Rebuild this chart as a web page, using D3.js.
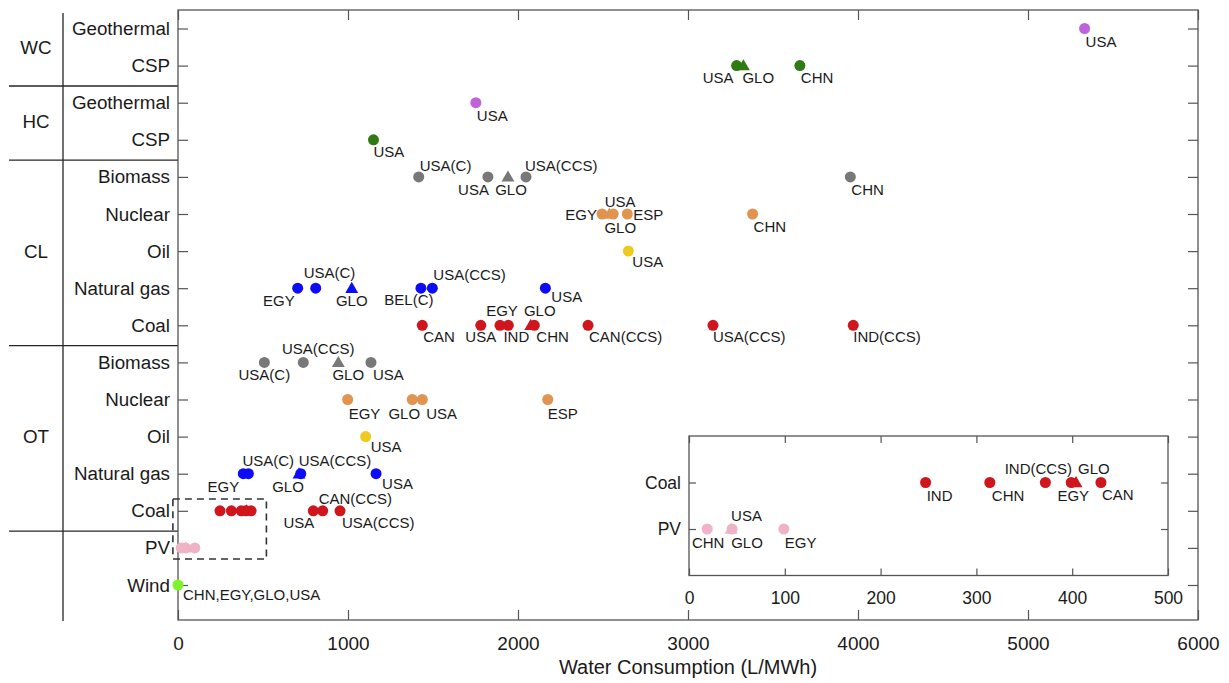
<!DOCTYPE html>
<html>
<head>
<meta charset="utf-8">
<script src="https://d3js.org/d3.v7.min.js"></script>
<style>
  body { margin: 0; background: #fff; }
  text { font-family: "Liberation Sans", Arial, sans-serif; fill: #1a1a1a; }
  .axis path { display: none; }
  .axis line { stroke: #555; stroke-width: 1.2; }
</style>
</head>
<body>
<script>
// rows from bottom (1) to top (16)
var rowNames = ["Wind", "PV", "Coal", "Natural gas", "Oil", "Nuclear", "Biomass",
                "Coal", "Natural gas", "Oil", "Nuclear", "Biomass",
                "CSP", "Geothermal", "CSP", "Geothermal"];
var rowFuel = ["wind", "pv", "coal", "gas", "oil", "nuclear", "biomass",
               "coal", "gas", "oil", "nuclear", "biomass", "csp", "geo", "csp", "geo"];
var groupNames = ["OT", "CL", "HC", "WC"];
var groupRows = [[3, 7], [8, 12], [13, 14], [15, 16]];
var xTicks = [0, 1000, 2000, 3000, 4000, 5000, 6000];
var insetTicks = [0, 100, 200, 300, 400, 500];

// [row, country, water consumption L/MWh, marker]
var wcRows = [[16, "USA", 5333, "o"],
              [15, "USA", 3286, "o"], [15, "GLO", 3326, "^"], [15, "CHN", 3658, "o"]];
var hcRows = [[14, "USA", 1752, "o"], [13, "USA", 1150, "o"]];
var clBiomass = [[12, "USA(C)", 1416, "o"], [12, "USA", 1823, "o"], [12, "GLO", 1941, "^"],
                 [12, "USA(CCS)", 2047, "o"], [12, "CHN", 3955, "o"]];
var clNuclear = [[11, "EGY", 2494, "o"], [11, "GLO", 2537, "^"], [11, "USA", 2560, "o"],
                 [11, "ESP", 2643, "o"], [11, "CHN", 3380, "o"]];
var clOil = [[10, "USA", 2649, "o"]];
var clGas = [[9, "EGY", 704, "o"], [9, "USA(C)", 810, "o"], [9, "GLO", 1022, "^"],
             [9, "BEL(C)", 1429, "o"], [9, "USA(CCS)", 1496, "o"], [9, "USA", 2161, "o"]];
var clCoal = [[8, "CAN", 1437, "o"], [8, "USA", 1781, "o"], [8, "EGY", 1894, "o"],
              [8, "IND", 1943, "o"], [8, "GLO", 2075, "^"], [8, "CHN", 2096, "o"],
              [8, "CAN(CCS)", 2412, "o"], [8, "USA(CCS)", 3147, "o"], [8, "IND(CCS)", 3972, "o"]];
var otBiomass = [[7, "USA(C)", 508, "o"], [7, "USA(CCS)", 737, "o"], [7, "GLO", 943, "^"],
                 [7, "USA", 1135, "o"]];
var otNuclear = [[6, "EGY", 998, "o"], [6, "GLO", 1378, "o"], [6, "USA", 1437, "o"],
                 [6, "ESP", 2175, "o"]];
var otOil = [[5, "USA", 1104, "o"]];
var otGas = [[4, "EGY", 384, "o"], [4, "USA(C)", 414, "o"], [4, "GLO", 712, "^"],
             [4, "USA(CCS)", 722, "o"], [4, "USA", 1165, "o"]];
var otCoal = [[3, "IND", 247, "o"], [3, "CHN", 314, "o"], [3, "IND(CCS)", 372, "o"],
              [3, "EGY", 399, "o"], [3, "GLO", 404, "^"], [3, "CAN", 430, "o"],
              [3, "USA", 796, "o"], [3, "CAN(CCS)", 851, "o"], [3, "USA(CCS)", 953, "o"]];
var pvRows = [[2, "CHN", 19, "o"], [2, "USA", 45, "o"], [2, "GLO", 44, "^"], [2, "EGY", 99, "o"]];
var windRows = [[1, "CHN,EGY,GLO,USA", 0, "o"]];

var fuelColor = {
  geo: "#c062d8", csp: "#2f7a12", biomass: "#787878", nuclear: "#e0944f",
  oil: "#ecca1e", gas: "#0c0cf8", coal: "#d0151d", pv: "#eeb3c5", wind: "#7cf42c"
};

// label placement [dx, dy, anchor] keyed by row|country
var labelAt = {
  "16|USA": [1, 18, "start"],
  "15|USA": [-3, 17, "end"], "15|GLO": [-1, 17, "start"], "15|CHN": [1, 17, "start"],
  "14|USA": [1, 18, "start"], "13|USA": [0, 17, "start"],
  "12|USA(C)": [1, -6, "start"], "12|USA": [1, 18, "end"], "12|GLO": [3, 18, "middle"],
  "12|USA(CCS)": [-1, -6, "start"], "12|CHN": [1, 18, "start"],
  "11|EGY": [-5, 5.5, "end"], "11|GLO": [11, 19, "middle"], "11|USA": [7, -7, "middle"],
  "11|ESP": [6, 5.5, "start"], "11|CHN": [1, 18, "start"],
  "10|USA": [4, 16, "start"],
  "9|EGY": [-3, 18, "end"], "9|USA(C)": [-12, -10, "start"], "9|GLO": [0, 18, "middle"],
  "9|BEL(C)": [-12, 17, "middle"], "9|USA(CCS)": [1, -8, "start"], "9|USA": [6, 14, "start"],
  "8|CAN": [1, 17, "start"], "8|USA": [0, 17, "middle"], "8|EGY": [2, -9, "middle"],
  "8|IND": [8, 17, "middle"], "8|GLO": [9, -9, "middle"], "8|CHN": [2, 17, "start"],
  "8|CAN(CCS)": [1, 17, "start"], "8|USA(CCS)": [0, 17, "start"], "8|IND(CCS)": [0, 17, "start"],
  "7|USA(C)": [0, 18, "middle"], "7|USA(CCS)": [15, -8, "middle"], "7|GLO": [10, 18, "middle"],
  "7|USA": [2, 18, "start"],
  "6|EGY": [1, 19, "start"], "6|GLO": [-8, 19, "middle"], "6|USA": [4, 19, "start"],
  "6|ESP": [0, 19, "start"],
  "5|USA": [5, 15.5, "start"],
  "4|EGY": [-4, 18, "end"], "4|USA(C)": [-6, -8, "start"], "4|GLO": [-11, 18, "middle"],
  "4|USA(CCS)": [-2, -8, "start"], "4|USA": [6, 15, "start"],
  "3|USA": [1, 17, "end"], "3|CAN(CCS)": [-4, -7, "start"], "3|USA(CCS)": [2, 17, "start"],
  "1|CHN,EGY,GLO,USA": [5, 15, "start"]
};
var insetLabelAt = {
  "3|IND": [1, 18, "start"], "3|CHN": [2, 18, "start"], "3|IND(CCS)": [-7, -9, "middle"],
  "3|EGY": [2, 18, "middle"], "3|GLO": [2, -9, "start"], "3|CAN": [1, 17, "start"],
  "2|CHN": [1, 19, "middle"], "2|GLO": [0, 19, "start"], "2|USA": [-1, -8, "start"],
  "2|EGY": [1, 19, "start"]
};

var allPoints = [].concat(wcRows, hcRows, clBiomass, clNuclear, clOil, clGas, clCoal,
                          otBiomass, otNuclear, otOil, otGas, otCoal, pvRows, windRows)
  .map(function (d) { return { row: d[0], name: d[1], value: d[2], mark: d[3] }; });

var W = 1229, H = 683;
var plotLeft = 178, plotRight = 1198, plotTop = 10, plotBottom = 620;

var svg = d3.select("body").append("svg").attr("width", W).attr("height", H);

var x = d3.scaleLinear().domain([0, 6000]).range([plotLeft, plotRight]);
var y = d3.scaleLinear().domain([1, 16]).range([585, 28.5]);
var rowTicks = d3.range(1, 17);

// category table on the left
var table = svg.append("g").attr("stroke", "#262626").attr("stroke-width", 1.3);
table.append("line").attr("x1", 63).attr("x2", 63).attr("y1", 13).attr("y2", 621);
[14.45, 12.45, 7.45, 2.45].forEach(function (r) {
  table.append("line").attr("x1", 9).attr("x2", plotLeft).attr("y1", y(r)).attr("y2", y(r));
});
groupNames.forEach(function (g, i) {
  var mid = (groupRows[i][0] + groupRows[i][1]) / 2;
  svg.append("text").attr("x", 36).attr("y", y(mid)).attr("dy", "0.35em")
    .attr("text-anchor", "middle").style("font-size", "18.8px").text(g);
});

// axes (MATLAB-like box with inward ticks)
svg.append("g").attr("class", "axis").attr("transform", "translate(0," + plotBottom + ")")
  .call(d3.axisBottom(x).tickValues(xTicks).tickSize(-10).tickPadding(16.5).tickFormat(d3.format("d")))
  .selectAll("text").style("font-size", "19px").attr("fill", "#262626");
svg.append("g").attr("class", "axis").attr("transform", "translate(0," + plotTop + ")")
  .call(d3.axisTop(x).tickValues(xTicks).tickSize(-10).tickFormat(""));
svg.append("g").attr("class", "axis").attr("transform", "translate(" + plotLeft + ",0)")
  .call(d3.axisLeft(y).tickValues(rowTicks).tickSize(-10).tickPadding(8)
    .tickFormat(function (d) { return rowNames[d - 1]; }))
  .selectAll("text").style("font-size", "18.8px").attr("fill", "#262626");
svg.append("g").attr("class", "axis").attr("transform", "translate(" + plotRight + ",0)")
  .call(d3.axisRight(y).tickValues(rowTicks).tickSize(-10).tickFormat(""));

svg.append("rect").attr("x", plotLeft).attr("y", plotTop)
  .attr("width", plotRight - plotLeft).attr("height", plotBottom - plotTop)
  .attr("fill", "none").attr("stroke", "#555").attr("stroke-width", 1.3);

svg.append("text").attr("x", (plotLeft + plotRight) / 2).attr("y", 674)
  .attr("text-anchor", "middle").style("font-size", "20px").text("Water Consumption (L/MWh)");

// dashed zoom box
svg.append("rect").attr("x", x(-30)).attr("y", y(3.32))
  .attr("width", x(520) - x(-30)).attr("height", y(1.7) - y(3.32))
  .attr("fill", "none").attr("stroke", "#333").attr("stroke-width", 1.6)
  .attr("stroke-dasharray", "7,5");

function drawMarks(g, data, xs, ys, rowOf) {
  g.selectAll("path.mark").data(data).enter().append("path").attr("class", "mark")
    .attr("d", function (d) {
      return d.mark === "^"
        ? d3.symbol().type(d3.symbolTriangle).size(72)()
        : d3.symbol().type(d3.symbolCircle).size(95)();
    })
    .attr("transform", function (d) {
      return "translate(" + xs(d.value) + "," + (ys(rowOf(d)) + (d.mark === "^" ? 1 : 0)) + ")";
    })
    .attr("fill", function (d) { return fuelColor[rowFuel[d.row - 1]]; });
}

function drawLabels(g, data, xs, ys, rowOf, where) {
  data.forEach(function (d) {
    var p = where[d.row + "|" + d.name];
    if (!p) return;
    g.append("text").attr("x", xs(d.value) + p[0]).attr("y", ys(rowOf(d)) + p[1])
      .attr("text-anchor", p[2]).style("font-size", "15px").text(d.name);
  });
}

var main = svg.append("g");
drawMarks(main, allPoints, x, y, function (d) { return d.row; });
drawLabels(main, allPoints, x, y, function (d) { return d.row; }, labelAt);

// inset: coal (once-through) and PV below 500 L/MWh
var ix = d3.scaleLinear().domain([0, 500]).range([689, 1168]);
var iy = d3.scaleLinear().domain([0, 3]).range([575.5, 436]);
var insetPts = allPoints.filter(function (d) { return (d.row === 3 || d.row === 2) && d.value <= 500; });
var insetRow = function (d) { return d.row === 3 ? 2 : 1; };

var inset = svg.append("g");
inset.append("rect").attr("x", ix(0)).attr("y", iy(3))
  .attr("width", ix(500) - ix(0)).attr("height", iy(0) - iy(3))
  .attr("fill", "#fff");
inset.append("g").attr("class", "axis").attr("transform", "translate(0," + iy(0) + ")")
  .call(d3.axisBottom(ix).tickValues(insetTicks).tickSize(-7).tickPadding(16.5))
  .selectAll("text").style("font-size", "17.5px").attr("fill", "#262626");
inset.append("g").attr("class", "axis").attr("transform", "translate(0," + iy(3) + ")")
  .call(d3.axisTop(ix).tickValues(insetTicks).tickSize(-7).tickFormat(""));
inset.append("g").attr("class", "axis").attr("transform", "translate(" + ix(0) + ",0)")
  .call(d3.axisLeft(iy).tickValues([1, 2]).tickSize(-7).tickPadding(8)
    .tickFormat(function (d) { return d === 2 ? "Coal" : "PV"; }))
  .selectAll("text").style("font-size", "17.5px").attr("fill", "#262626");
inset.append("g").attr("class", "axis").attr("transform", "translate(" + ix(500) + ",0)")
  .call(d3.axisRight(iy).tickValues([1, 2]).tickSize(-7).tickFormat(""));
inset.append("rect").attr("x", ix(0)).attr("y", iy(3))
  .attr("width", ix(500) - ix(0)).attr("height", iy(0) - iy(3))
  .attr("fill", "none").attr("stroke", "#555").attr("stroke-width", 1.3);

drawMarks(inset, insetPts, ix, iy, insetRow);
drawLabels(inset, insetPts, ix, iy, insetRow, insetLabelAt);
</script>
</body>
</html>
